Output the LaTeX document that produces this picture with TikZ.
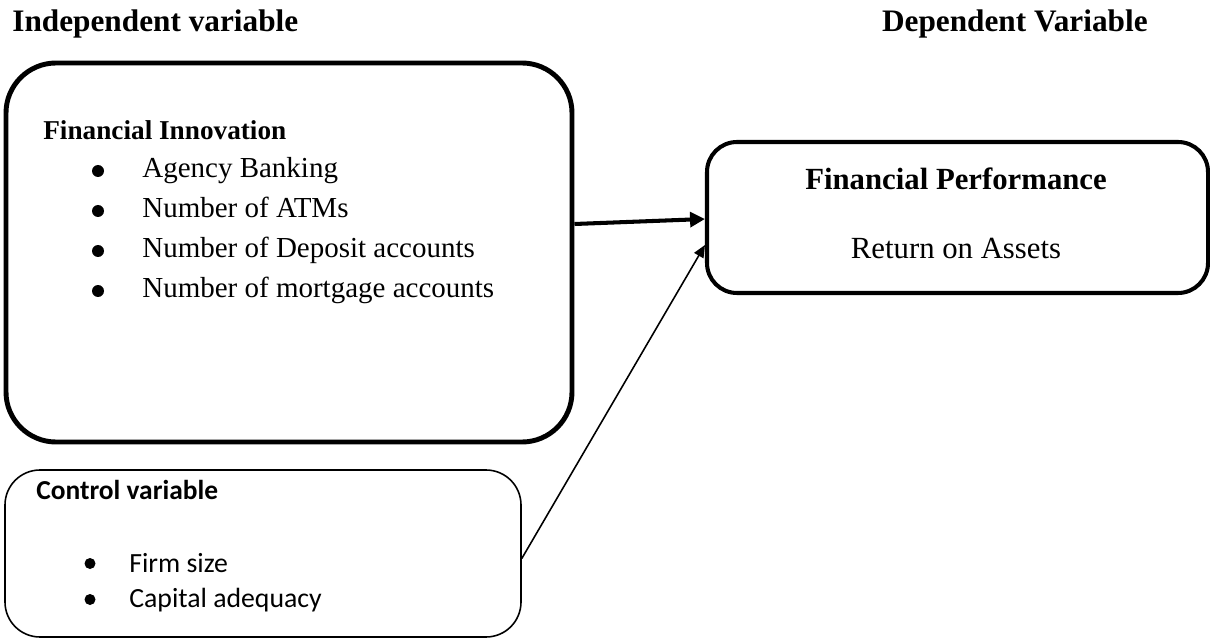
\documentclass[tikz,border=0pt]{standalone}
\usepackage{fontspec}
\setmainfont{Liberation Serif}
\newfontfamily\calibrifont{Carlito}
\usetikzlibrary{arrows.meta, positioning}
\tikzset{
    heading/.style={anchor=base west, inner sep=0pt, font=\fontsize{17.8}{21}\selectfont\bfseries},
    bigbox/.style={rectangle, draw, line width=2.8pt},
    listtext/.style={anchor=base west, inner sep=0pt, align=left}
}

\begin{document}
\begin{tikzpicture}
    \useasboundingbox (0,0) rectangle (24.2,12.84);

    % Headings
    \node[heading] (indep) at (0.24,12.2) {Independent variable};
    \node[heading, anchor=base east] (dep) at (22.96,12.2) {Dependent Variable};

    % Boxes
    \node[bigbox, rounded corners=1cm, minimum width=11.32cm, minimum height=7.58cm]
        (innov) at (5.78,7.79) {};
    \node[bigbox, line width=2.3pt, rounded corners=0.6cm, minimum width=10.02cm,
          minimum height=3.02cm] (perf) at (19.15,8.49) {};
    \node[rectangle, draw, line width=0.9pt, rounded corners=0.7cm, minimum width=10.32cm,
          minimum height=3.34cm] (ctrl) at (5.26,1.77) {};

    % Box texts
    \node[listtext, font=\fontsize{15.5}{22.7}\selectfont\bfseries] (innovhead) at (0.86,10.04)
        {Financial Innovation};
    \node[listtext, font=\fontsize{16.5}{22.7}\selectfont] (innovlist) at (2.84,9.28) {%
        \begin{tabular}[t]{@{}l@{}}
            Agency Banking\\
            Number of ATMs\\
            Number of Deposit accounts\\
            Number of mortgage accounts
        \end{tabular}};
    \foreach \y in {9.28,8.48,7.68,6.88}
        \fill (1.96,\y+0.14) circle (0.12);

    \node[font=\fontsize{17.5}{21}\selectfont\bfseries, inner sep=0pt, anchor=base]
        (perfhead) at (19.12,9.04) {Financial Performance};
    \node[font=\fontsize{17.5}{21}\selectfont, inner sep=0pt, anchor=base]
        (roa) at (19.12,7.66) {Return on Assets};

    \node[listtext, font=\calibrifont\fontsize{15.6}{21}\selectfont\bfseries] (ctrlhead) at (0.72,2.86)
        {Control variable};
    \node[listtext, font=\calibrifont\fontsize{15.8}{20.4}\selectfont] (ctrllist) at (2.58,1.4) {%
        \begin{tabular}[t]{@{}l@{}}
            Firm size\\
            Capital adequacy
        \end{tabular}};
    \foreach \y in {1.4,0.68}
        \fill (1.8,\y+0.17) circle (0.11);

    % Arrows
    \draw[-{Triangle[length=8.5pt, width=8.5pt]}, line width=2.3pt]
        ([yshift=0.57cm]innov.east) -- ([yshift=-0.03cm]perf.west);
    \draw[-{Triangle[length=7pt, width=6pt]}, line width=0.9pt]
        ([yshift=-0.1cm]ctrl.east) -- ([yshift=-0.55cm]perf.west);
\end{tikzpicture}
\end{document}
